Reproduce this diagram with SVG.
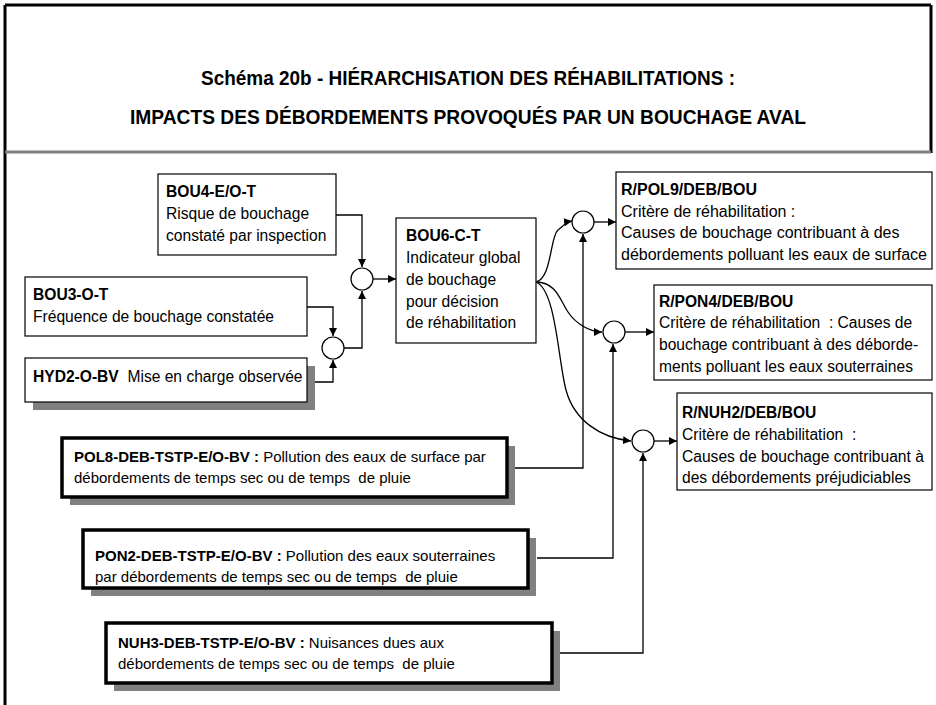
<svg xmlns="http://www.w3.org/2000/svg" width="936" height="705" viewBox="0 0 936 705">
<defs>
<marker id="ah" viewBox="0 0 10 10" refX="10" refY="5" markerWidth="8" markerHeight="8" markerUnits="userSpaceOnUse" orient="auto">
<path d="M0,0 L10,5 L0,10 z" fill="#000"/>
</marker>
<style>
.t{font-family:"Liberation Sans",Arial,sans-serif;font-size:15.6px;fill:#000}
.s{font-size:15px}
.r{font-size:16px}
.b{font-weight:bold}
.title{font-family:"Liberation Sans",Arial,sans-serif;font-size:21px;font-weight:bold;fill:#000}
.box{fill:#fff;stroke:#000;stroke-width:1.2}
.tbox{fill:#fff;stroke:#000;stroke-width:3.5}
.sh{fill:#808080}
.c{fill:#fff;stroke:#000;stroke-width:1.2}
.ln{fill:none;stroke:#000;stroke-width:1.3}
</style>
</defs>
<rect width="936" height="705" fill="#fff"/>
<g id="frame">
<line x1="5" y1="5" x2="5" y2="705" stroke="#000" stroke-width="3"/>
<line x1="5" y1="5" x2="931" y2="5" stroke="#000" stroke-width="3"/>
<line x1="931" y1="5" x2="931" y2="153" stroke="#000" stroke-width="3"/>
<line x1="5" y1="152" x2="931" y2="152" stroke="#808080" stroke-width="3"/>
</g>
<g id="title">
<text class="title" x="468" y="85" text-anchor="middle" textLength="534" lengthAdjust="spacingAndGlyphs">Schéma 20b - HIÉRARCHISATION DES RÉHABILITATIONS :</text>
<text class="title" x="468" y="124" text-anchor="middle" textLength="676" lengthAdjust="spacingAndGlyphs">IMPACTS DES DÉBORDEMENTS PROVOQUÉS PAR UN BOUCHAGE AVAL</text>
</g>
<g id="connectors">
<path class="ln" d="M336,215 H362 V267" marker-end="url(#ah)"/>
<path class="ln" d="M307,307 H333 V336" marker-end="url(#ah)"/>
<path class="ln" d="M315,382 H333 V360" marker-end="url(#ah)"/>
<path class="ln" d="M344,348 H362 V291" marker-end="url(#ah)"/>
<path class="ln" d="M373,279 H396" marker-end="url(#ah)"/>
<path class="ln" d="M536,282 C552,278 550,236 558,230 S566,222 572,221" marker-end="url(#ah)"/>
<path class="ln" d="M536,282 C556,282 560,300 568,312 S590,332 602,332" marker-end="url(#ah)"/>
<path class="ln" d="M536,282 C556,290 558,360 566,390 S600,438 631,441" marker-end="url(#ah)"/>
<path class="ln" d="M594,222 H616" marker-end="url(#ah)"/>
<path class="ln" d="M625,332 H654" marker-end="url(#ah)"/>
<path class="ln" d="M654,441 H677" marker-end="url(#ah)"/>
<path class="ln" d="M515,468 H583 V234" marker-end="url(#ah)"/>
<path class="ln" d="M537,558 H613 V344" marker-end="url(#ah)"/>
<path class="ln" d="M560,653 H643 V453" marker-end="url(#ah)"/>
</g>
<g id="j1"><circle class="c" cx="362" cy="279" r="11"/></g>
<g id="j2"><circle class="c" cx="333" cy="348" r="11"/></g>
<g id="j3"><circle class="c" cx="583" cy="222" r="11"/></g>
<g id="j4"><circle class="c" cx="614" cy="332" r="11"/></g>
<g id="j5"><circle class="c" cx="643" cy="441" r="11"/></g>
<g id="BOU4">
<rect class="box" x="158" y="174" width="178" height="81"/>
<text class="t b" x="166" y="197">BOU4-E/O-T</text>
<text class="t" x="166" y="219">Risque de bouchage</text>
<text class="t" x="166" y="241">constaté par inspection</text>
</g>
<g id="BOU3">
<rect class="box" x="25" y="277" width="282" height="59"/>
<text class="t b" x="33" y="300">BOU3-O-T</text>
<text class="t" x="33" y="322">Fréquence de bouchage constatée</text>
</g>
<g id="HYD2">
<rect class="sh" x="33" y="366" width="282" height="44"/>
<rect class="box" x="25" y="358" width="282" height="44"/>
<text class="t" x="33" y="382" xml:space="preserve"><tspan class="b">HYD2-O-BV</tspan>  Mise en charge observée</text>
</g>
<g id="BOU6">
<rect class="box" x="396" y="218" width="140" height="125"/>
<text class="t b" x="406" y="241">BOU6-C-T</text>
<text class="t" x="406" y="263">Indicateur global</text>
<text class="t" x="406" y="285">de bouchage</text>
<text class="t" x="406" y="307">pour décision</text>
<text class="t" x="406" y="328">de réhabilitation</text>
</g>
<g id="RPOL9">
<rect class="box" x="616" y="172" width="316" height="97"/>
<text class="t r b" x="621" y="195">R/POL9/DEB/BOU</text>
<text class="t r" x="621" y="217">Critère de réhabilitation :</text>
<text class="t r" x="621" y="238">Causes de bouchage contribuant à des</text>
<text class="t r" x="621" y="260">débordements polluant les eaux de surface</text>
</g>
<g id="RPON4">
<rect class="box" x="654" y="285" width="278" height="95"/>
<text class="t b" x="659" y="307">R/PON4/DEB/BOU</text>
<text class="t" x="659" y="328" xml:space="preserve">Critère de réhabilitation  : Causes de</text>
<text class="t" x="659" y="350">bouchage contribuant à des déborde-</text>
<text class="t" x="659" y="372">ments polluant les eaux souterraines</text>
</g>
<g id="RNUH2">
<rect class="box" x="677" y="393" width="255" height="97"/>
<text class="t b" x="682" y="418">R/NUH2/DEB/BOU</text>
<text class="t" x="682" y="440" xml:space="preserve">Critère de réhabilitation  :</text>
<text class="t" x="682" y="462">Causes de bouchage contribuant à</text>
<text class="t" x="682" y="483">des débordements préjudiciables</text>
</g>
<g id="POL8">
<rect class="sh" x="70" y="446" width="445" height="59"/>
<rect class="tbox" x="62" y="438" width="445" height="59"/>
<text class="t s" x="74" y="462"><tspan class="b">POL8-DEB-TSTP-E/O-BV :</tspan> Pollution des eaux de surface par</text>
<text class="t s" x="74" y="483" xml:space="preserve">débordements de temps sec ou de temps  de pluie</text>
</g>
<g id="PON2">
<rect class="sh" x="91" y="538" width="445" height="58"/>
<rect class="tbox" x="83" y="530" width="445" height="58"/>
<text class="t s" x="95" y="561"><tspan class="b">PON2-DEB-TSTP-E/O-BV :</tspan> Pollution des eaux souterraines</text>
<text class="t s" x="95" y="582" xml:space="preserve">par débordements de temps sec ou de temps  de pluie</text>
</g>
<g id="NUH3">
<rect class="sh" x="114" y="631" width="446" height="60"/>
<rect class="tbox" x="106" y="623" width="446" height="60"/>
<text class="t s" x="118" y="648"><tspan class="b">NUH3-DEB-TSTP-E/O-BV :</tspan> Nuisances dues aux</text>
<text class="t s" x="118" y="669" xml:space="preserve">débordements de temps sec ou de temps  de pluie</text>
</g>
</svg>
